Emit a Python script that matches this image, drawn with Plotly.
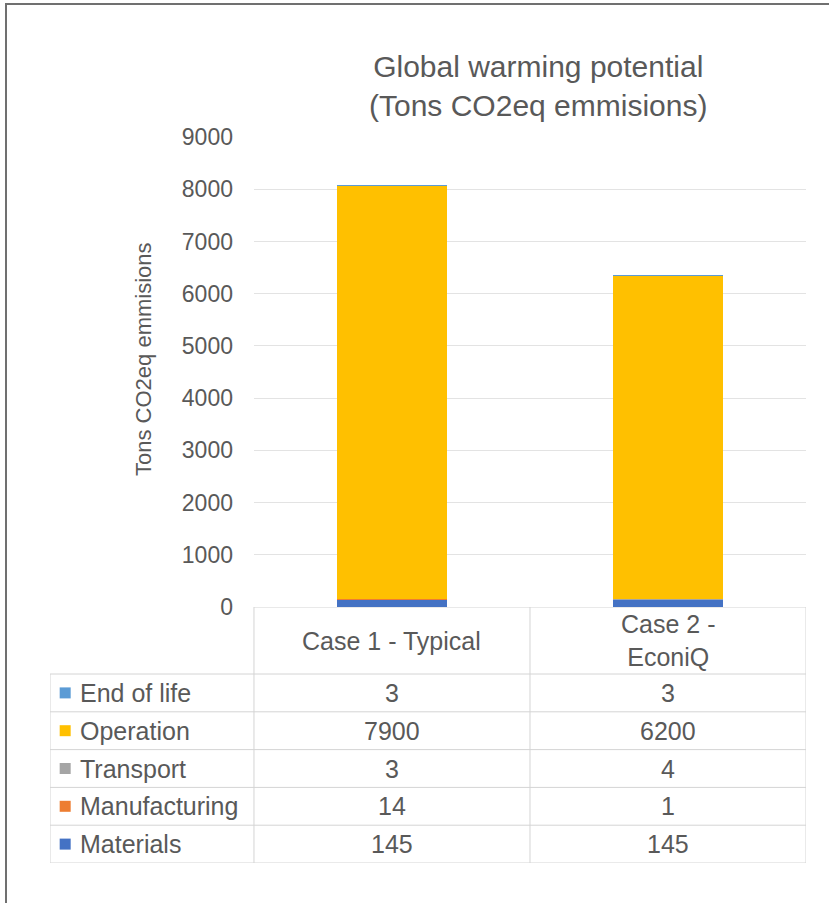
import plotly.graph_objects as go

categories = ["Case 1 - Typical", "Case 2 - EconiQ"]
header_labels = ["Case 1 - Typical", "Case 2 -<br>EconiQ"]
series_names = ["Materials", "Manufacturing", "Transport", "Operation", "End of life"]
series_values = {
    "Materials": [145, 145],
    "Manufacturing": [14, 1],
    "Transport": [3, 4],
    "Operation": [7900, 6200],
    "End of life": [3, 3],
}
series_colors = {
    "Materials": "#4472C4",
    "Manufacturing": "#ED7D31",
    "Transport": "#A5A5A5",
    "Operation": "#FFC000",
    "End of life": "#5B9BD5",
}
y_ticks = [0, 1000, 2000, 3000, 4000, 5000, 6000, 7000, 8000, 9000]
title_lines = ["Global warming potential", "(Tons CO2eq emmisions)"]
y_title = "Tons CO2eq emmisions"

W, H = 829, 903
FONT = "Liberation Sans, Arial, sans-serif"
TXT = "#595959"
GRID = "#e3e3e3"
TBL = "#d4d4d4"

def px_x(p):
    return p / W

def px_y(p):
    return 1 - p / H

fig = go.Figure()

# stacked bars
for name in series_names:
    fig.add_trace(go.Bar(
        x=categories, y=series_values[name], name=name,
        marker=dict(color=series_colors[name], line=dict(width=0)),
        width=0.4, xaxis="x", yaxis="y", showlegend=False,
    ))

# table built on a second axis system: rows as y units, columns as category units
n_rows = len(series_names)
label_left = -1.239
header_top = n_rows - 0.5 + 67 / 37.8
table_rows = list(reversed(series_names))  # top to bottom: End of life ... Materials
row_y = {name: n_rows - 1 - i for i, name in enumerate(table_rows)}

shapes = []
line = dict(color=TBL, width=1)
for k in range(n_rows + 1):
    yb = k - 0.5
    shapes.append(dict(type="line", xref="x2", yref="y2", x0=label_left, x1=len(categories) - 0.5,
                       y0=yb, y1=yb, line=line))
shapes.append(dict(type="line", xref="x2", yref="y2", x0=-0.5, x1=len(categories) - 0.5,
                   y0=header_top, y1=header_top, line=line))
shapes.append(dict(type="line", xref="x2", yref="y2", x0=label_left, x1=label_left,
                   y0=-0.5, y1=n_rows - 0.5, line=line))
for c in range(len(categories) + 1):
    xb = c - 0.5
    shapes.append(dict(type="line", xref="x2", yref="y2", x0=xb, x1=xb,
                       y0=-0.5, y1=header_top, line=line))

# outer frame of the image
shapes.append(dict(type="line", xref="paper", yref="paper", x0=px_x(5), x1=1.0,
                   y0=px_y(4), y1=px_y(4), line=dict(color="#707070", width=2)))
shapes.append(dict(type="line", xref="paper", yref="paper", x0=px_x(6), x1=px_x(6),
                   y0=px_y(4), y1=0, line=dict(color="#707070", width=2)))

annotations = []
for c, lab in enumerate(header_labels):
    annotations.append(dict(x=c, y=(n_rows - 0.5 + header_top) / 2, xref="x2", yref="y2",
                            text=lab, showarrow=False, font=dict(size=25, color=TXT, family=FONT),
                            xanchor="center", yanchor="middle"))
for name in table_rows:
    annotations.append(dict(x=label_left + 0.1, y=row_y[name], xref="x2", yref="y2",
                            text=name, showarrow=False, font=dict(size=25, color=TXT, family=FONT),
                            xanchor="left", yanchor="middle"))
    for c, v in enumerate(series_values[name]):
        annotations.append(dict(x=c, y=row_y[name], xref="x2", yref="y2",
                                text=str(v), showarrow=False,
                                font=dict(size=25, color=TXT, family=FONT),
                                xanchor="center", yanchor="middle"))

fig.add_trace(go.Scatter(
    x=[label_left + 0.055] * n_rows, y=[row_y[n] for n in table_rows],
    mode="markers", xaxis="x2", yaxis="y2", showlegend=False, hoverinfo="skip",
    marker=dict(symbol="square", size=11, color=[series_colors[n] for n in table_rows]),
))

annotations.append(dict(x=px_x(538), y=px_y(86), xref="paper", yref="paper",
                        text="<br>".join(title_lines), showarrow=False,
                        font=dict(size=30, color=TXT, family=FONT),
                        xanchor="center", yanchor="middle"))
annotations.append(dict(x=px_x(143), y=px_y(359), xref="paper", yref="paper",
                        text=y_title, textangle=-90, showarrow=False,
                        font=dict(size=22, color=TXT, family=FONT),
                        xanchor="center", yanchor="middle"))

fig.update_layout(
    width=W, height=H, autosize=False,
    margin=dict(l=0, r=0, t=0, b=0, pad=0, autoexpand=False),
    paper_bgcolor="white", plot_bgcolor="white",
    barmode="stack", bargap=0.6,
    font=dict(family=FONT, color=TXT),
    xaxis=dict(domain=[px_x(254), px_x(806)], range=[-0.5, 1.5], showticklabels=False,
               showgrid=False, zeroline=False, showline=False, automargin=False, anchor="y"),
    yaxis=dict(domain=[px_y(607), px_y(137)], range=[0, 9000], tickvals=y_ticks,
               showgrid=True, gridcolor=GRID, gridwidth=1, zeroline=False, showline=False,
               tickfont=dict(size=23, color=TXT, family=FONT), ticklabelstandoff=20,
               automargin=False, anchor="x"),
    xaxis2=dict(domain=[px_x(50), px_x(806)], range=[label_left, 1.5], visible=False,
                automargin=False, anchor="y2"),
    yaxis2=dict(domain=[px_y(863), px_y(607)], range=[-0.5, header_top], visible=False,
                automargin=False, anchor="x2"),
    shapes=shapes,
    annotations=annotations,
)

fig.write_html("out.html")
